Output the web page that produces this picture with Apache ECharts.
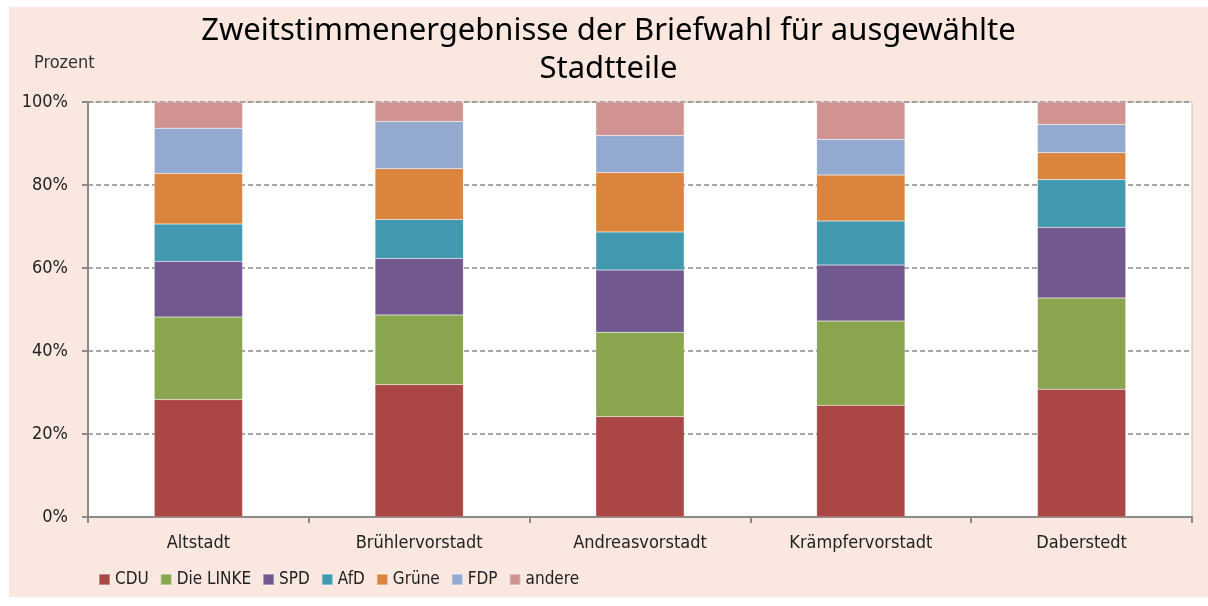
<!DOCTYPE html>
<html>
<head>
<meta charset="utf-8">
<script src="https://cdn.jsdelivr.net/npm/echarts@6/dist/echarts.min.js"></script>
<style>
  html, body { margin: 0; padding: 0; background: #fff; }
  #chart { position: absolute; left: 9px; top: 7px; width: 1199px; height: 590px; }
</style>
</head>
<body>
<div id="chart"></div>
<script>
// Stadtteile
var categories = ['Altstadt', 'Brühlervorstadt', 'Andreasvorstadt', 'Krämpfervorstadt', 'Daberstedt'];
// Anteile in Prozent, von unten nach oben gestapelt
var cdu    = [28.3, 31.9, 24.2, 26.9, 30.8];
var linke  = [19.9, 16.8, 20.3, 20.3, 22.0];
var spd    = [13.4, 13.6, 15.0, 13.5, 17.0];
var afd    = [ 9.0,  9.4,  9.2, 10.6, 11.5];
var gruene = [12.2, 12.2, 14.3, 11.1,  6.5];
var fdp    = [10.9, 11.4,  8.9,  8.6,  6.8];
var andere = [ 6.3,  4.7,  8.1,  9.0,  5.4];

var condFont = '"Liberation Sans Narrow", "DejaVu Sans Condensed", sans-serif';

function bar(name, data, color) {
  return {
    name: name,
    type: 'bar',
    stack: 'gesamt',
    barWidth: '40%',
    data: data,
    itemStyle: { color: color, borderColor: 'rgba(255,255,255,0.35)', borderWidth: 0.5 }
  };
}

var myChart = echarts.init(document.getElementById('chart'));
var option = {
  backgroundColor: '#f9e7e0',
  animation: false,
  title: [{
    text: 'Zweitstimmenergebnisse der Briefwahl für ausgewählte\nStadtteile',
    left: 'center',
    top: 0,
    textStyle: {
      fontFamily: '"Noto Sans", "Open Sans", sans-serif',
      fontSize: 31,
      fontWeight: 'normal',
      lineHeight: 38,
      color: '#000'
    }
  }, {
    text: 'Prozent',
    left: 20,
    top: 42,
    textStyle: { fontFamily: condFont, fontSize: 18, fontWeight: 'normal', color: '#333' }
  }],
  legend: {
    left: 84,
    top: 559,
    itemWidth: 11,
    itemHeight: 11,
    itemGap: 11,
    icon: 'rect',
    textStyle: { fontFamily: condFont, fontSize: 17, color: '#222' },
    data: ['CDU', 'Die LINKE', 'SPD', 'AfD', 'Grüne', 'FDP', 'andere']
  },
  grid: {
    left: 79,
    right: 16,
    top: 95,
    bottom: 80,
    show: true,
    backgroundColor: '#fff',
    borderColor: '#c4c4c4',
    borderWidth: 1
  },
  xAxis: {
    type: 'category',
    data: categories,
    axisLine: { lineStyle: { color: '#8a8a8a', width: 2 } },
    axisTick: { show: true, length: 6, lineStyle: { color: '#8a8a8a', width: 2 } },
    axisLabel: { margin: 17, fontFamily: condFont, fontSize: 18, color: '#222' }
  },
  yAxis: {
    type: 'value',
    min: 0,
    max: 100,
    interval: 20,
    axisLine: { show: true, lineStyle: { color: '#8a8a8a', width: 2 } },
    axisTick: { show: true, length: 6, lineStyle: { color: '#8a8a8a', width: 2 } },
    axisLabel: { formatter: '{value}%', margin: 20, fontFamily: condFont, fontSize: 18, color: '#222' },
    splitLine: {
      show: true,
      lineStyle: { type: [5, 3], width: 1.5, color: '#8c8c8c' }
    }
  },
  series: [
    bar('CDU', cdu, '#aa4643'),
    bar('Die LINKE', linke, '#89a54e'),
    bar('SPD', spd, '#71588f'),
    bar('AfD', afd, '#4198af'),
    bar('Grüne', gruene, '#db843d'),
    bar('FDP', fdp, '#93a9cf'),
    bar('andere', andere, '#d19392')
  ]
};
myChart.setOption(option);
</script>
</body>
</html>
